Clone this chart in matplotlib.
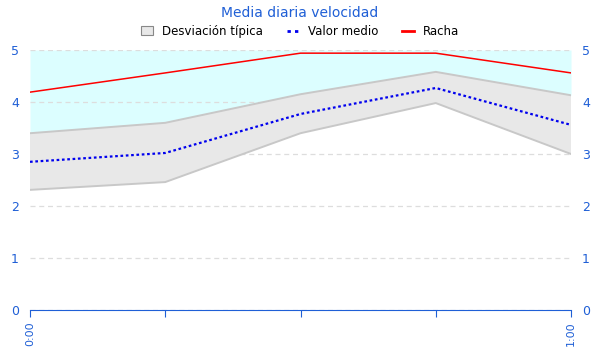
import matplotlib.pyplot as plt
import numpy as np
from matplotlib.patches import Patch
from matplotlib.lines import Line2D

# datos (horas)
horas = [0, 0.25, 0.5, 0.75, 1.0]
etiquetas = ["0:00", "", "", "", "1:00"]
racha = [4.19, 4.56, 4.94, 4.94, 4.56]
media = [2.85, 3.02, 3.77, 4.27, 3.56]
desv_sup = [3.40, 3.60, 4.15, 4.58, 4.13]
desv_inf = [2.31, 2.46, 3.40, 3.98, 3.00]

azul = "#1f5fd6"

fig = plt.figure(figsize=(6, 3.6), dpi=100)
ax = fig.add_axes([0.05, 0.139, 0.9017, 0.722])

# zona cyan por encima de la desviacion
ax.fill_between(horas, desv_sup, 5, color="#dcfeff", lw=0, zorder=1)
# banda de desviacion tipica
ax.fill_between(horas, desv_inf, desv_sup, facecolor="#e8e8e8", edgecolor="none", zorder=2)
ax.plot(horas, desv_sup, color="#c8c8c8", lw=1.4, zorder=3)
ax.plot(horas, desv_inf, color="#c8c8c8", lw=1.4, zorder=3)

ax.plot(horas, media, color="#0000ee", lw=1.6, ls=(0, (1.2, 1.2)), zorder=4)
ax.plot(horas, racha, color="#ff0000", lw=1.1, zorder=4)

ax.set_xlim(0, 1)
ax.set_ylim(0, 5)
ax.set_yticks(range(6))
ax.set_xticks(horas)
ax.set_xticklabels(etiquetas, rotation=90, color=azul, fontsize=8)
ax.tick_params(axis="y", colors=azul, labelsize=9, length=0, labelright=True, pad=8)
ax.tick_params(axis="x", color=azul, length=5)
ax.grid(axis="y", color="#dddddd", ls=(0, (4, 3)), lw=0.9, zorder=0)
for s in ["top", "left", "right"]:
    ax.spines[s].set_visible(False)
ax.spines["bottom"].set_color(azul)

fig.text(0.5, 0.965, "Media diaria velocidad", ha="center", va="center", color=azul, fontsize=10)
handles = [Patch(facecolor="#e8e8e8", edgecolor="#888888", lw=0.8),
           Line2D([], [], color="#0000ee", lw=2, ls=(0, (1.2, 1.5))),
           Line2D([], [], color="#ff0000", lw=2)]
fig.legend(handles, ["Desviación típica", "Valor medio", "Racha"], loc="center",
           bbox_to_anchor=(0.5, 0.913), ncol=3, frameon=False, fontsize=8.5,
           handlelength=1.0, handleheight=0.8, columnspacing=2.0, handletextpad=0.8)

fig.savefig("out.png", dpi=100)
